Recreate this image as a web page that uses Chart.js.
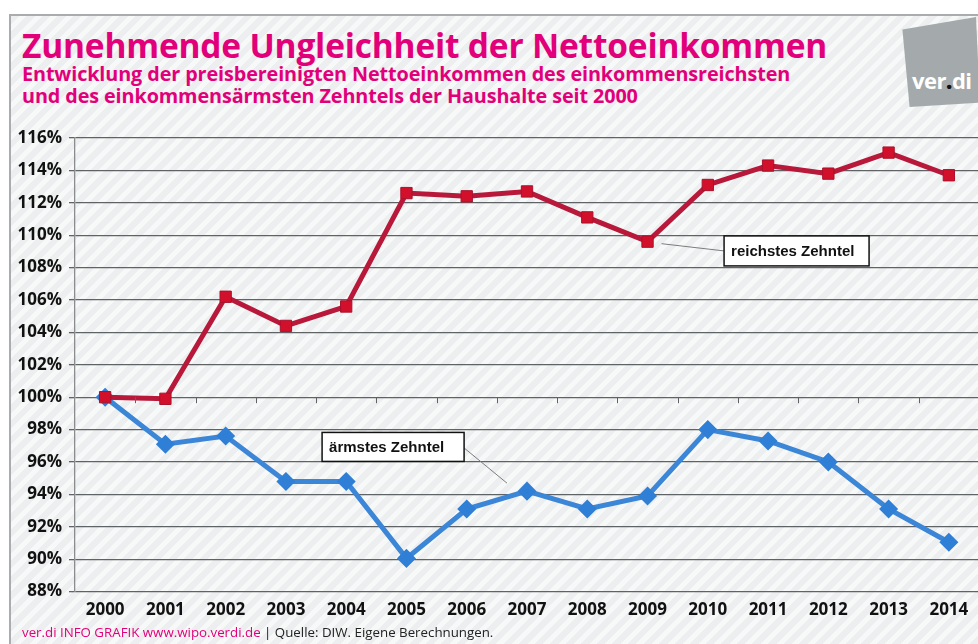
<!DOCTYPE html>
<html lang="de">
<head>
<meta charset="utf-8">
<script src="https://cdn.jsdelivr.net/npm/chart.js@4.4.1/dist/chart.umd.min.js"></script>
<style>
  html, body { margin: 0; padding: 0; background: #fff; }
  #wrap {
    position: relative; width: 978px; height: 644px; overflow: hidden;
  }
  #frame {
    position: absolute; left: 9px; top: 14px; right: -2px; bottom: -2px;
    border-top: 2px solid #a9adb0; border-left: 2px solid #a9adb0;
    background: repeating-linear-gradient(135deg, #eceeef 0px, #eceeef 6px, #f7f8f8 6px, #f7f8f8 11px);
  }
  #chartBox { position: absolute; left: 0; top: 0; width: 990px; height: 644px; }
  .title {
    position: absolute; left: 22px; top: 22px; margin: 0;
    font: 700 33.5px "Open Sans", sans-serif; color: #e2007a; letter-spacing: -0.2px;
    white-space: nowrap;
  }
  .subtitle {
    position: absolute; left: 22px; top: 63px; margin: 0;
    font: 700 19.8px/22px "Open Sans", sans-serif; color: #e2007a; letter-spacing: -0.1px;
    white-space: nowrap;
  }
  .logo {
    position: absolute; left: 900px; top: 17px; width: 80px; height: 90px;
    background: #a4aaab;
    clip-path: polygon(3% 14%, 95% 0%, 100% 95%, 12% 100%);
  }
  .logo span {
    position: absolute; left: 12px; top: 48px;
    font: 700 22px "Open Sans", sans-serif; color: #fff; letter-spacing: -0.5px;
  }
  .logo b { color: #111; }
  .footer {
    position: absolute; left: 22px; top: 623px; margin: 0;
    font: 400 13.3px "Open Sans", sans-serif; color: #222; white-space: nowrap;
  }
  .footer .pink { color: #e2007a; }
</style>
</head>
<body>
<div id="wrap">
  <div id="frame"></div>
  <h1 class="title">Zunehmende Ungleichheit der Nettoeinkommen</h1>
  <p class="subtitle">Entwicklung der preisbereinigten Nettoeinkommen des einkommensreichsten<br>und des einkommensärmsten Zehntels der Haushalte seit 2000</p>
  <div class="logo"><span>ver<b>.</b>di</span></div>
  <div id="chartBox"><canvas id="incomeChart"></canvas></div>
  <p class="footer"><span class="pink">ver.di INFO GRAFIK www.wipo.verdi.de</span> | Quelle: DIW. Eigene Berechnungen.</p>
</div>

<script>
/* ---------------------------------------------------------
   Data (index, 2000 = 100 %)
--------------------------------------------------------- */
const years = ["2000", "2001", "2002", "2003", "2004", "2005", "2006", "2007",
               "2008", "2009", "2010", "2011", "2012", "2013", "2014"];
const richestTenth = [100.0, 99.9, 106.2, 104.4, 105.6, 112.6, 112.4, 112.7,
                      111.1, 109.6, 113.1, 114.3, 113.8, 115.1, 113.7];
const poorestTenth = [100.0, 97.1, 97.6, 94.8, 94.8, 90.05, 93.1, 94.2,
                      93.1, 93.9, 98.0, 97.3, 96.0, 93.1, 91.05];
const seriesLabels = ["reichstes Zehntel", "ärmstes Zehntel"];
const yTicks = [88, 90, 92, 94, 96, 98, 100, 102, 104, 106, 108, 110, 112, 114, 116];

const BLUE = "#3b86d6";
const GRID = "#5f6366";

/* small tick marks along the 100 % line, between the years */
const baselineTicks = {
  id: "baselineTicks",
  afterDatasetsDraw(chart) {
    const { ctx, scales: { x, y } } = chart;
    const yPos = y.getPixelForValue(100);
    const step = x.getPixelForValue(1) - x.getPixelForValue(0);
    ctx.save();
    ctx.strokeStyle = GRID;
    ctx.lineWidth = 1;
    for (let i = 0; i < years.length - 1; i++) {
      const xp = Math.round(x.getPixelForValue(i) + step / 2) + 0.5;
      ctx.beginPath();
      ctx.moveTo(xp, yPos);
      ctx.lineTo(xp, yPos + 6);
      ctx.stroke();
    }
    ctx.restore();
  },
};

/* label boxes with leader lines */
const seriesCallouts = {
  id: "seriesCallouts",
  afterDatasetsDraw(chart) {
    const { ctx, scales: { x, y } } = chart;
    const callouts = [
      { text: seriesLabels[0], idx: 9, ds: richestTenth, boxX: x.getPixelForValue(10.27), boxY: y.getPixelForValue(109.03), w: 145, h: 30, side: "left" },
      { text: seriesLabels[1], idx: 7, ds: poorestTenth, boxX: x.getPixelForValue(3.6), boxY: y.getPixelForValue(96.93), w: 142, h: 29, side: "right" },
    ];
    ctx.save();
    callouts.forEach((c) => {
      const px = x.getPixelForValue(c.idx);
      const py = y.getPixelForValue(c.ds[c.idx]);
      const top = c.boxY - c.h / 2;
      // leader line
      ctx.strokeStyle = "#7a7d80";
      ctx.lineWidth = 1;
      ctx.beginPath();
      if (c.side === "left") {
        ctx.moveTo(px + 14, py + 2);
        ctx.lineTo(c.boxX, c.boxY);
      } else {
        ctx.moveTo(c.boxX + c.w, c.boxY + 1);
        ctx.lineTo(px - 20, py - 8);
      }
      ctx.stroke();
      // box
      ctx.fillStyle = "#ffffff";
      ctx.fillRect(c.boxX, top, c.w, c.h);
      ctx.strokeStyle = "#111";
      ctx.lineWidth = 1.5;
      ctx.strokeRect(c.boxX, top, c.w, c.h);
      ctx.fillStyle = "#111";
      ctx.font = "700 15px 'Liberation Sans', Arial, sans-serif";
      ctx.textBaseline = "middle";
      ctx.textAlign = "left";
      ctx.fillText(c.text, c.boxX + 7, c.boxY + 1);
    });
    ctx.restore();
  },
};

new Chart(document.getElementById("incomeChart").getContext("2d"), {
  type: "line",
  data: {
    labels: years,
    datasets: [
      {
        label: seriesLabels[0],
        data: richestTenth,
        borderColor: "#b8193a",
        backgroundColor: "#d3102b",
        pointBackgroundColor: "#d3102b",
        pointBorderColor: "#a8122c",
        pointBorderWidth: 1,
        pointStyle: "rect",
        pointRadius: 8,
        borderWidth: 5,
        tension: 0,
      },
      {
        label: seriesLabels[1],
        data: poorestTenth,
        borderColor: BLUE,
        backgroundColor: "#2f7fd6",
        pointBackgroundColor: "#2f7fd6",
        pointBorderColor: "#2f7fd6",
        pointStyle: "rectRot",
        pointRadius: 6,
        borderWidth: 5,
        tension: 0,
      },
    ],
  },
  options: {
    responsive: true,
    maintainAspectRatio: false,
    animation: false,
    layout: { padding: { top: 138, right: 0, bottom: 16, left: 0 } },
    plugins: {
      legend: { display: false },
      tooltip: { enabled: false },
    },
    scales: {
      x: {
        offset: true,
        grid: { display: false, drawTicks: false },
        border: { display: false },
        ticks: {
          color: "#111",
          padding: 8,
          font: { family: "Open Sans", size: 17, weight: "700" },
          maxRotation: 0,
        },
      },
      y: {
        min: 88,
        max: 116,
        afterBuildTicks: (scale) => {
          scale.ticks = yTicks.map((v) => ({ value: v }));
        },
        afterFit: (scale) => {
          scale.width = 75;
        },
        grid: { color: GRID, lineWidth: 1.3, tickLength: 6, drawTicks: true },
        border: { display: true, color: "#8a8d90", width: 1.3 },
        ticks: {
          color: "#111",
          padding: 7,
          font: { family: "Open Sans", size: 17, weight: "700" },
          callback: (v) => v + "%",
        },
      },
    },
  },
  plugins: [baselineTicks, seriesCallouts],
});
</script>
</body>
</html>
